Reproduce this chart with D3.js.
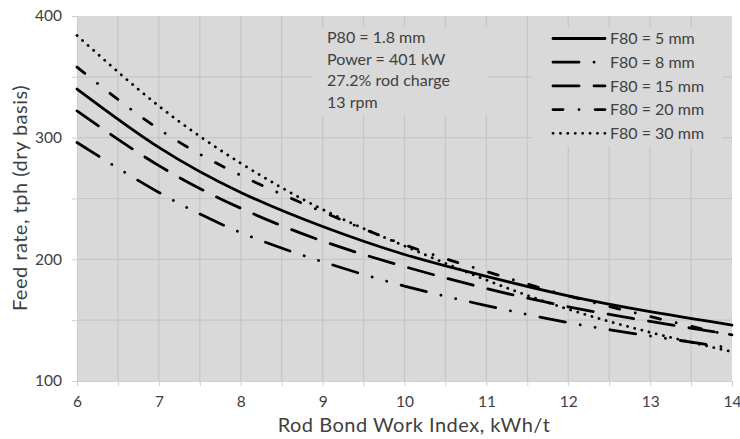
<!DOCTYPE html>
<html>
<head>
<meta charset="utf-8">
<script src="https://d3js.org/d3.v7.min.js"></script>
<style>
body { margin: 0; background: #fff; }
text { font-family: Lato, "Open Sans", sans-serif; fill: #404040; }
.axis path, .axis line { stroke: #d0d0d0; }
.axis text { font-size: 15.5px; fill: #404040; }
</style>
</head>
<body>
<script>
// chart values
var workIndex = [6, 7, 8, 9, 10, 11, 12, 13, 14];
var feed5  = [340, 292, 255, 227, 204, 186, 170, 157, 146];
var feed8  = [296, 255, 222, 198, 178, 162, 148, 137, 127];
var feed15 = [322, 277, 242, 215, 194, 176, 161, 149, 138];
var feed20 = [358, 307, 269, 239, 212, 190, 170, 153, 137];
var feed30 = [384, 326, 279, 241, 211, 183, 159, 140, 124];
var seriesNames = ['F80 = 5 mm', 'F80 = 8 mm', 'F80 = 15 mm', 'F80 = 20 mm', 'F80 = 30 mm'];
var notes = ['P80 = 1.8 mm', 'Power = 401 kW', '27.2% rod charge', '13 rpm'];
var xLabels = [6, 7, 8, 9, 10, 11, 12, 13, 14];
var yLabels = [100, 200, 300, 400];

var seriesValues = [feed5, feed8, feed15, feed20, feed30];
// line styles: solid, long dash dot dot, long dash, dash dot, round dots
var dashes = ['none', '26,15,0.1,15,0.1,15', '26,15', '10,16,0.1,16', '0.1,7.3'];

var svg = d3.select('body').append('svg')
  .attr('width', 740)
  .attr('height', 439);

var x = d3.scaleLinear().domain([6, 14]).range([77, 732]);
var y = d3.scaleLinear().domain([100, 400]).range([381, 16]);

// plot area
svg.append('rect')
  .attr('x', x(6)).attr('y', y(400))
  .attr('width', x(14) - x(6)).attr('height', y(100) - y(400))
  .attr('fill', '#d9d9d9');

// grid
svg.append('g').selectAll('line')
  .data(x.ticks(16).filter(function(d){ return d > 6 && d < 14; }))
  .enter().append('line')
  .attr('x1', function(d){ return x(d); }).attr('x2', function(d){ return x(d); })
  .attr('y1', y(400)).attr('y2', y(100))
  .attr('stroke', '#c6c6c6').attr('stroke-width', 1.2);

svg.append('g').selectAll('line')
  .data(y.ticks(6).filter(function(d){ return d > 100 && d < 400; }))
  .enter().append('line')
  .attr('x1', x(6)).attr('x2', x(14))
  .attr('y1', function(d){ return y(d); }).attr('y2', function(d){ return y(d); })
  .attr('stroke', '#c6c6c6').attr('stroke-width', 1.2);

// axes
svg.append('g')
  .attr('class', 'axis')
  .attr('transform', 'translate(0,' + y(100) + ')')
  .call(d3.axisBottom(x).tickValues(x.ticks(16)).tickSize(5).tickPadding(10)
    .tickFormat(function(d){ return xLabels.indexOf(d) >= 0 ? d : ''; }));

svg.append('g')
  .attr('class', 'axis')
  .attr('transform', 'translate(' + x(6) + ',0)')
  .call(d3.axisLeft(y).tickValues(y.ticks(6)).tickSize(5).tickPadding(10)
    .tickFormat(function(d){ return yLabels.indexOf(d) >= 0 ? d : ''; }));

svg.selectAll('.axis path').attr('stroke-width', 1.2);

// boxes for notes and legend hide the grid behind them
svg.append('rect').attr('x', 312).attr('y', 27).attr('width', 175).attr('height', 88).attr('fill', '#d9d9d9');
svg.append('rect').attr('x', 532).attr('y', 27).attr('width', 190).attr('height', 119).attr('fill', '#d9d9d9');

svg.append('g').selectAll('text')
  .data(notes)
  .enter().append('text')
  .attr('x', 327)
  .attr('y', function(d, i){ return 43 + i * 21.5; })
  .style('font-size', '16px')
  .text(function(d){ return d; });

// curves
var line = d3.line()
  .x(function(d){ return x(d[0]); })
  .y(function(d){ return y(d[1]); })
  .curve(d3.curveNatural);

seriesValues.forEach(function(vals, i) {
  svg.append('path')
    .datum(workIndex.map(function(w, j){ return [w, vals[j]]; }))
    .attr('d', line)
    .attr('fill', 'none')
    .attr('stroke', '#000')
    .attr('stroke-width', 2.8)
    .attr('stroke-linecap', 'round')
    .attr('stroke-dasharray', dashes[i]);
});

// legend
var legend = svg.append('g').selectAll('g')
  .data(seriesNames)
  .enter().append('g')
  .attr('transform', function(d, i){ return 'translate(553,' + (38.5 + i * 23.7) + ')'; });

legend.append('line')
  .attr('x1', 0).attr('x2', 52)
  .attr('stroke', '#000')
  .attr('stroke-width', 2.8)
  .attr('stroke-linecap', 'round')
  .attr('stroke-dasharray', function(d, i){ return dashes[i]; });

legend.append('text')
  .attr('x', 57)
  .attr('dy', '0.35em')
  .style('font-size', '16px')
  .text(function(d){ return d; });

// axis titles
svg.append('text')
  .attr('x', 414)
  .attr('y', 432)
  .style('text-anchor', 'middle')
  .style('font-size', '20px')
  .style('letter-spacing', '0.5px')
  .text('Rod Bond Work Index, kWh/t');

svg.append('text')
  .attr('transform', 'translate(27,198)rotate(-90)')
  .style('text-anchor', 'middle')
  .style('font-size', '20px')
  .style('letter-spacing', '0.5px')
  .text('Feed rate, tph (dry basis)');
</script>
</body>
</html>
